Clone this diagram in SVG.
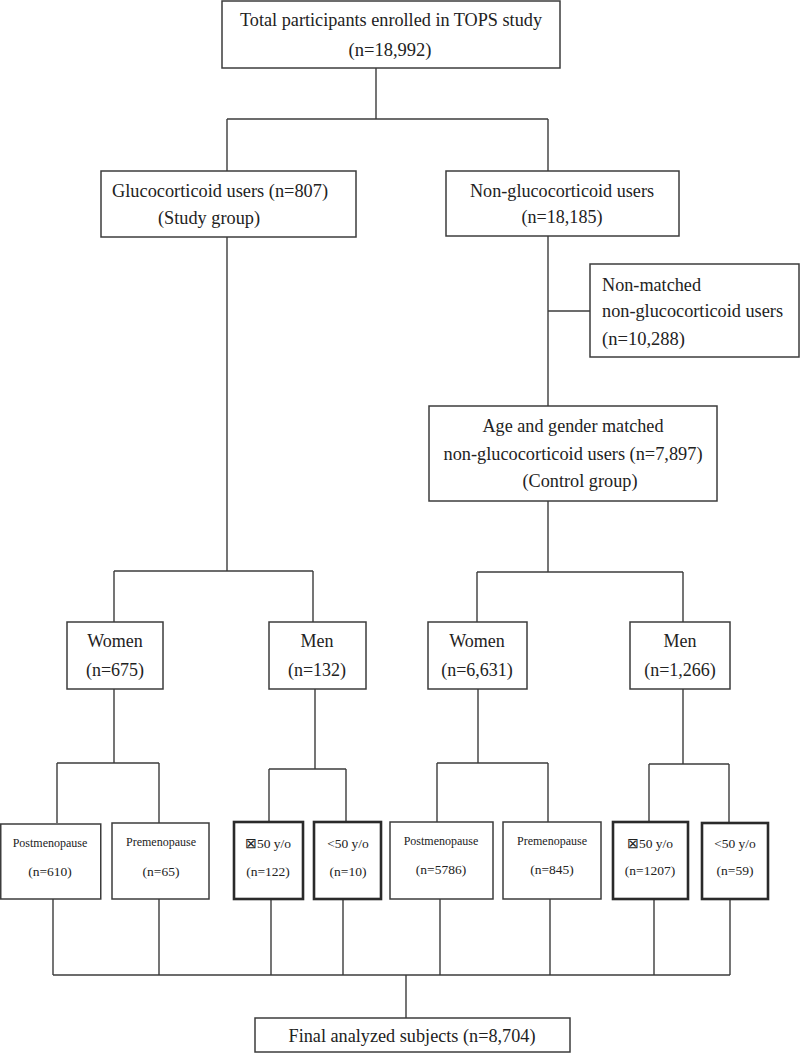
<svg xmlns="http://www.w3.org/2000/svg" width="800" height="1055" viewBox="0 0 800 1055">
<style>
.box{fill:#fff;stroke:#3c3c3c;stroke-width:1.5}
.thick{fill:#fff;stroke:#2a2a2a;stroke-width:2.6}
.t{font-family:"Liberation Serif","Times New Roman",serif;fill:#222;text-anchor:middle}
.l{text-anchor:start}
.big{font-size:19.5px}
.mid{font-size:18px}
.sm{font-size:12px}
.sn{font-size:13.5px}
#connectors path{fill:none;stroke:#3c3c3c;stroke-width:1.4}
</style>
<rect width="800" height="1055" fill="#fff"/>
<g id="connectors">
<path d="M376,68V119M227,119H548M227,119V171M548,119V171"/>
<path d="M227,237V571M114,571H313M114,571V622M313,571V622"/>
<path d="M548,236V406M548,311H590"/>
<path d="M548,501V572M477,572H683M477,572V622M683,572V622"/>
<path d="M114,689V763M57,763H159M57,763V823M159,763V823"/>
<path d="M315,689V769M269,769H346M269,769V822M346,769V822"/>
<path d="M478,689V763M437,763H548M437,763V822M548,763V822"/>
<path d="M683,689V764M649,764H729M649,764V822M729,764V822"/>
<path d="M53,899V975M159,899V975M271,899V975M343,899V975M440,899V975M550,899V975M654,899V975M730,899V975M53,975H730M406,975V1018"/>
</g>
<g id="total">
<rect class="box" x="222" y="1" width="338" height="67"/>
<text class="t big" x="391" y="26" textLength="302" lengthAdjust="spacingAndGlyphs">Total participants enrolled in TOPS study</text>
<text class="t big" x="390" y="56" textLength="83" lengthAdjust="spacingAndGlyphs">(n=18,992)</text>
</g>
<g id="gc-users">
<rect class="box" x="101" y="171" width="255" height="66"/>
<text class="t big l" x="112" y="197" textLength="216" lengthAdjust="spacingAndGlyphs">Glucocorticoid users (n=807)</text>
<text class="t big l" x="158" y="224" textLength="102" lengthAdjust="spacingAndGlyphs">(Study group)</text>
</g>
<g id="non-gc-users">
<rect class="box" x="446" y="171" width="233" height="65"/>
<text class="t big" x="562" y="197" textLength="184" lengthAdjust="spacingAndGlyphs">Non-glucocorticoid users</text>
<text class="t big" x="562" y="223" textLength="81" lengthAdjust="spacingAndGlyphs">(n=18,185)</text>
</g>
<g id="non-matched">
<rect class="box" x="590" y="264" width="209" height="93"/>
<text class="t big l" x="602" y="291" textLength="99" lengthAdjust="spacingAndGlyphs">Non-matched</text>
<text class="t big l" x="602" y="317" textLength="181" lengthAdjust="spacingAndGlyphs">non-glucocorticoid users</text>
<text class="t big l" x="602" y="345" textLength="83" lengthAdjust="spacingAndGlyphs">(n=10,288)</text>
</g>
<g id="matched">
<rect class="box" x="429" y="406" width="288" height="95"/>
<text class="t big" x="573" y="432" textLength="181" lengthAdjust="spacingAndGlyphs">Age and gender matched</text>
<text class="t big" x="573" y="460" textLength="259" lengthAdjust="spacingAndGlyphs">non-glucocorticoid users (n=7,897)</text>
<text class="t big" x="580" y="487" textLength="115" lengthAdjust="spacingAndGlyphs">(Control group)</text>
</g>
<g id="gc-women">
<rect class="box" x="67" y="622" width="96" height="67"/>
<text class="t mid" x="115" y="647">Women</text>
<text class="t mid" x="115" y="676">(n=675)</text>
</g>
<g id="gc-men">
<rect class="box" x="269" y="622" width="97" height="67"/>
<text class="t mid" x="317" y="647">Men</text>
<text class="t mid" x="317" y="676">(n=132)</text>
</g>
<g id="ctl-women">
<rect class="box" x="428" y="622" width="99" height="67"/>
<text class="t mid" x="477" y="647">Women</text>
<text class="t mid" x="477" y="676">(n=6,631)</text>
</g>
<g id="ctl-men">
<rect class="box" x="630" y="622" width="100" height="67"/>
<text class="t mid" x="680" y="647">Men</text>
<text class="t mid" x="680" y="676">(n=1,266)</text>
</g>
<g id="gc-post">
<rect class="box" x="0.75" y="824" width="100" height="75"/>
<text class="t sm" x="50" y="847">Postmenopause</text>
<text class="t sn" x="50" y="876">(n=610)</text>
</g>
<g id="gc-pre">
<rect class="box" x="112" y="823" width="97" height="76"/>
<text class="t sm" x="161" y="846">Premenopause</text>
<text class="t sn" x="161" y="876">(n=65)</text>
</g>
<g id="gc-ge50">
<rect class="thick" x="234" y="822" width="69" height="77"/>
<text class="t sn" x="268" y="848">⊠50 y/o</text>
<text class="t sn" x="268" y="876">(n=122)</text>
</g>
<g id="gc-lt50">
<rect class="thick" x="314" y="822" width="67" height="77"/>
<text class="t sn" x="348" y="848">&lt;50 y/o</text>
<text class="t sn" x="348" y="876">(n=10)</text>
</g>
<g id="ctl-post">
<rect class="box" x="390" y="822" width="103" height="77"/>
<text class="t sm" x="441" y="845">Postmenopause</text>
<text class="t sn" x="441" y="874">(n=5786)</text>
</g>
<g id="ctl-pre">
<rect class="box" x="503" y="822" width="98" height="77"/>
<text class="t sm" x="552" y="845">Premenopause</text>
<text class="t sn" x="552" y="874">(n=845)</text>
</g>
<g id="ctl-ge50">
<rect class="thick" x="613" y="822" width="75" height="77"/>
<text class="t sn" x="650" y="848">⊠50 y/o</text>
<text class="t sn" x="650" y="875">(n=1207)</text>
</g>
<g id="ctl-lt50">
<rect class="thick" x="702" y="823" width="66" height="76"/>
<text class="t sn" x="735" y="848">&lt;50 y/o</text>
<text class="t sn" x="735" y="875">(n=59)</text>
</g>
<g id="final">
<rect class="box" x="255" y="1018" width="315" height="34"/>
<text class="t big" x="412" y="1042" textLength="247" lengthAdjust="spacingAndGlyphs">Final analyzed subjects (n=8,704)</text>
</g>
</svg>
